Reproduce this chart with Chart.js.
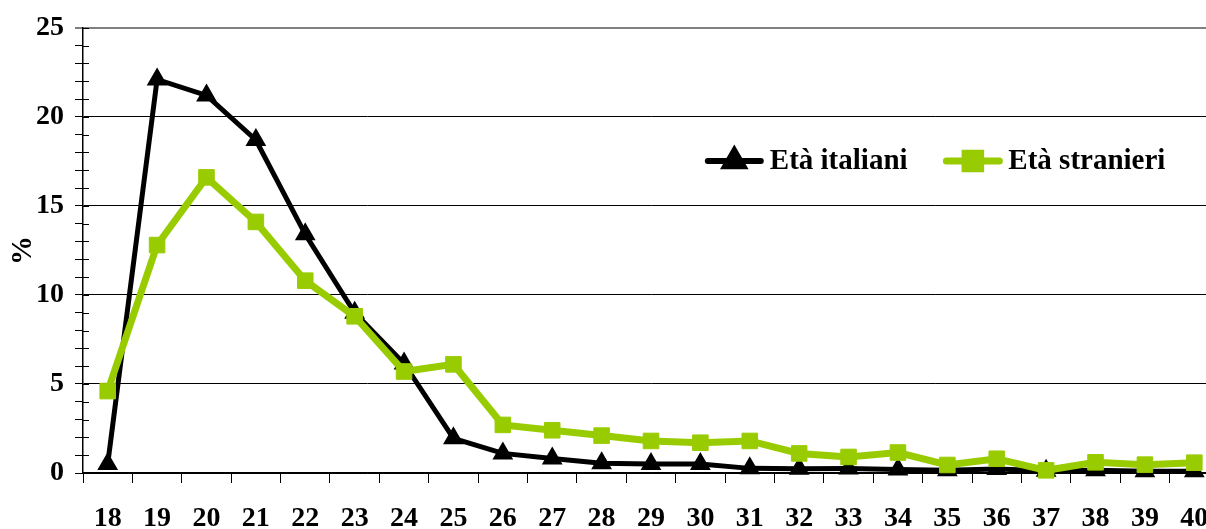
<!DOCTYPE html>
<html>
<head>
<meta charset="utf-8">
<script src="https://cdn.jsdelivr.net/npm/chart.js@4/dist/chart.umd.min.js"></script>
<style>
  html, body { margin: 0; padding: 0; background: #fff; overflow: hidden; width: 1206px; height: 529px; }
  #frame { position: relative; width: 1206px; height: 529px; overflow: hidden; }
  #c { position: absolute; left: 0; top: 0; }
</style>
</head>
<body>
<div id="frame"><canvas id="c" width="1219" height="529"></canvas></div>
<script>
// Età (anni)
const ages = ['18','19','20','21','22','23','24','25','26','27','28','29','30','31','32','33','34','35','36','37','38','39','40'];
// Distribuzione percentuale per età
const italiani = [0.5, 22.1, 21.2, 18.7, 13.4, 9.0, 6.15, 1.95, 1.1, 0.82, 0.55, 0.5, 0.5, 0.26, 0.24, 0.25, 0.2, 0.15, 0.22, 0.12, 0.15, 0.1, 0.1];
const stranieri = [4.6, 12.8, 16.6, 14.1, 10.8, 8.8, 5.7, 6.1, 2.7, 2.4, 2.1, 1.8, 1.7, 1.8, 1.1, 0.9, 1.15, 0.45, 0.8, 0.15, 0.6, 0.47, 0.58];
const seriesNames = ['Età italiani', 'Età stranieri'];
const yMax = 25;
const yLabelStep = 5;

const FONT = 'Liberation Serif';
const GREEN = '#99CC00';

// Inner half of the y tick marks and an in-plot legend
const extras = {
  id: 'extras',
  afterDraw(chart) {
    const ctx = chart.ctx;
    const ys = chart.scales.y;
    const area = chart.chartArea;
    const w = area.right - area.left;
    ctx.save();
    ctx.strokeStyle = '#000';
    ctx.lineWidth = 1;
    ys.ticks.forEach(t => {
      const py = Math.round(ys.getPixelForValue(t.value)) + 0.5;
      ctx.beginPath();
      ctx.moveTo(area.left, py);
      ctx.lineTo(area.left + 6, py);
      ctx.stroke();
    });

    // legend
    const ly = area.top + (area.bottom - area.top) * 0.299;
    const items = [
      { x: area.left + w * 0.550, ds: chart.data.datasets[1], lw: 6 },
      { x: area.left + w * 0.760, ds: chart.data.datasets[0], lw: 7 }
    ];
    ctx.font = 'bold 29px "' + FONT + '"';
    ctx.textBaseline = 'middle';
    items.forEach(it => {
      const ds = it.ds;
      const len = 53;
      ctx.strokeStyle = ds.borderColor;
      ctx.lineWidth = it.lw;
      ctx.lineCap = 'round';
      ctx.beginPath();
      ctx.moveTo(it.x, ly);
      ctx.lineTo(it.x + len, ly);
      ctx.stroke();
      ctx.lineCap = 'butt';
      Chart.helpers.drawPoint(ctx, {
        pointStyle: ds.pointStyle,
        radius: ds.pointRadius,
        borderWidth: ds.pointBorderWidth,
        rotation: 0
      }, it.x + len / 2, ly);
      ctx.fillStyle = ds.pointBackgroundColor;
      ctx.strokeStyle = ds.pointBorderColor;
      ctx.lineWidth = ds.pointBorderWidth;
      ctx.fill();
      ctx.stroke();
      ctx.fillStyle = '#000';
      ctx.textAlign = 'left';
      ctx.fillText(ds.label, it.x + len + 9, ly + 1);
    });
    ctx.restore();
  }
};

new Chart(document.getElementById('c'), {
  type: 'line',
  data: {
    labels: ages,
    datasets: [
      {
        label: seriesNames[1],
        data: stranieri,
        borderColor: GREEN,
        backgroundColor: GREEN,
        pointBackgroundColor: GREEN,
        pointBorderColor: GREEN,
        borderWidth: 7,
        pointStyle: 'rect',
        pointRadius: 11,
        pointBorderWidth: 1,
        tension: 0,
        clip: false,
        order: 0
      },
      {
        label: seriesNames[0],
        data: italiani,
        borderColor: '#000',
        backgroundColor: '#000',
        pointBackgroundColor: '#000',
        pointBorderColor: '#000',
        borderWidth: 5,
        pointStyle: 'triangle',
        pointRadius: 10.5,
        pointBorderWidth: 1.5,
        tension: 0,
        clip: false,
        order: 1
      }
    ]
  },
  options: {
    responsive: false,
    animation: false,
    events: [],
    devicePixelRatio: 1,
    layout: { autoPadding: false, padding: { top: 26, right: 0, bottom: 0, left: 0 } },
    plugins: {
      legend: { display: false },
      tooltip: { enabled: false }
    },
    scales: {
      x: {
        offset: true,
        grid: {
          offset: true,
          drawOnChartArea: false,
          drawTicks: true,
          tickLength: 10,
          tickColor: '#000',
          tickWidth: 1
        },
        border: { color: '#000', width: 1.5 },
        ticks: {
          color: '#000',
          padding: 19,
          maxRotation: 0,
          autoSkip: false,
          font: { family: FONT, size: 28, weight: 'bold' }
        },
        afterFit(scale) {
          scale.height = 56;
          scale.paddingLeft = 0;
          scale.paddingRight = 0;
        }
      },
      y: {
        min: 0,
        max: yMax,
        title: {
          display: true,
          text: '%',
          color: '#000',
          padding: { top: 6, bottom: 0 },
          font: { family: FONT, size: 29, weight: 'bold' }
        },
        grid: {
          color: c => {
            const v = c.tick.value;
            if (v === yMax) return '#808080';
            return v % yLabelStep === 0 ? '#000' : 'rgba(0,0,0,0)';
          },
          lineWidth: c => (c.tick.value === yMax ? 2 : 1),
          tickColor: '#000',
          tickWidth: 1,
          tickLength: 8
        },
        border: { color: '#000', width: 1.5 },
        ticks: {
          stepSize: 1,
          autoSkip: false,
          color: '#000',
          padding: 11,
          font: { family: FONT, size: 28, weight: 'bold' },
          callback: v => (v % yLabelStep === 0 ? String(v) : '')
        },
        afterFit(scale) { scale.width = 83; }
      }
    }
  },
  plugins: [extras]
});
</script>
</body>
</html>
